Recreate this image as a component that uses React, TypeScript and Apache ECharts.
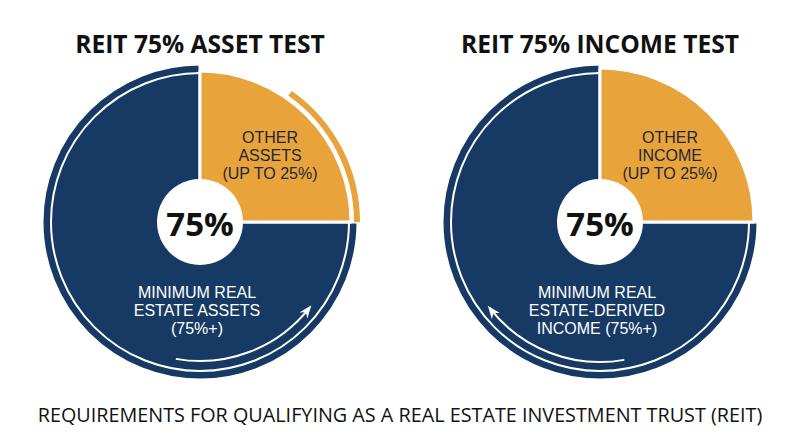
import React, { useEffect, useRef } from "react";
import * as echarts from "echarts";

const NAVY = "#173a65";
const ORANGE = "#e8a33b";

const chartTitles = ["REIT 75% ASSET TEST", "REIT 75% INCOME TEST"];
const categoryKeys = ["other", "realEstate"];
const assetValues = [25, 75];
const incomeValues = [25, 75];
const assetLabels = [
  ["OTHER", "ASSETS", "(UP TO 25%)"],
  ["MINIMUM REAL", "ESTATE ASSETS", "(75%+)"],
];
const incomeLabels = [
  ["OTHER", "INCOME", "(UP TO 25%)"],
  ["MINIMUM REAL", "ESTATE-DERIVED", "INCOME (75%+)"],
];
const centerLabel = "75%";
const footerText = "REQUIREMENTS FOR QUALIFYING AS A REAL ESTATE INVESTMENT TRUST (REIT)";

const deg = (d: number) => (d * Math.PI) / 180;
const FONT = "'Open Sans', 'Noto Sans', sans-serif";
const LABEL_FONT = "'Liberation Sans', Arial, sans-serif";

function arrowHead(cx: number, cy: number, r: number, angDeg: number, dirSign: number) {
  const t = deg(angDeg);
  const px = cx + r * Math.cos(t);
  const py = cy + r * Math.sin(t);
  const tx = -Math.sin(t) * dirSign;
  const ty = Math.cos(t) * dirSign;
  const nx = -ty;
  const ny = tx;
  const L = 10;
  const W = 5;
  const tip = [px + tx * 3, py + ty * 3];
  const b1 = [px - tx * L + nx * W, py - ty * L + ny * W];
  const b2 = [px - tx * L - nx * W, py - ty * L - ny * W];
  const mid = [px - tx * (L * 0.6), py - ty * (L * 0.6)];
  return {
    type: "polygon",
    z: 110,
    shape: { points: [tip, b1, mid, b2] },
    style: { fill: "#ffffff" },
  };
}

function pieSeries(values: number[], cx: number, cy: number, rOther: number, rMain: number) {
  const colors = [ORANGE, NAVY];
  const mk = (r: number, show: number) => ({
    type: "pie",
    center: [cx, cy],
    radius: [0, r],
    startAngle: 90,
    clockwise: true,
    silent: true,
    label: { show: false },
    labelLine: { show: false },
    data: values.map((v, i) => ({
      name: categoryKeys[i],
      value: v,
      itemStyle:
        i === show
          ? { color: colors[i], borderColor: "#ffffff", borderWidth: 3 }
          : { color: "rgba(0,0,0,0)", borderWidth: 0 },
    })),
  });
  return [mk(rMain, 1), mk(rOther, 0)];
}

function lineTexts(lines: string[], x: number, yMid: number, color: string) {
  const step = 18;
  const y0 = yMid - ((lines.length - 1) * step) / 2;
  return lines.map((t, i) => ({
    type: "text",
    z: 120,
    x,
    y: y0 + i * step,
    style: {
      text: t,
      fontSize: 16,
      fontFamily: LABEL_FONT,
      fill: color,
      align: "center",
      verticalAlign: "middle",
    },
  }));
}

function decorations(
  cx: number,
  cy: number,
  title: string,
  labels: string[][],
  opts: { ring: number; arrowR: number; arrowFrom: number; arrowTo: number; band: boolean }
) {
  const els: any[] = [];
  els.push({
    type: "text",
    z: 120,
    x: cx,
    y: 43,
    style: {
      text: title,
      fontSize: 24.6,
      fontWeight: "bold",
      fontFamily: FONT,
      fill: "#111111",
      align: "center",
      verticalAlign: "middle",
    },
  });
  els.push({
    type: "arc",
    z: 105,
    shape: { cx, cy, r: opts.ring, startAngle: 0, endAngle: deg(270), clockwise: true },
    style: { stroke: "#ffffff", lineWidth: 2, fill: "none" },
  });
  if (opts.band) {
    els.push({
      type: "arc",
      z: 104,
      shape: { cx, cy, r: 157, startAngle: deg(-55), endAngle: deg(0), clockwise: true },
      style: { stroke: ORANGE, lineWidth: 6, fill: "none" },
    });
  }
  const cw = opts.arrowTo > opts.arrowFrom;
  els.push({
    type: "arc",
    z: 105,
    shape: {
      cx,
      cy,
      r: opts.arrowR,
      startAngle: deg(opts.arrowFrom),
      endAngle: deg(opts.arrowTo),
      clockwise: cw,
    },
    style: { stroke: "#ffffff", lineWidth: 2, fill: "none" },
  });
  els.push(arrowHead(cx, cy, opts.arrowR, opts.arrowTo, cw ? 1 : -1));
  els.push({
    type: "circle",
    z: 106,
    shape: { cx, cy, r: 43 },
    style: { fill: "#ffffff" },
  });
  els.push({
    type: "text",
    z: 120,
    x: cx,
    y: cy + 1,
    style: {
      text: centerLabel,
      fontSize: 33,
      fontWeight: "bold",
      fontFamily: FONT,
      fill: "#111111",
      align: "center",
      verticalAlign: "middle",
    },
  });
  els.push(...lineTexts(labels[0], cx + 70, 155, "#1d2737"));
  els.push(...lineTexts(labels[1], cx - 3, 310, "#ffffff"));
  return els;
}

export default function App() {
  const ref = useRef<HTMLDivElement>(null);
  useEffect(() => {
    if (!ref.current) return;
    const chart = echarts.init(ref.current, undefined, { renderer: "svg" });
    const L = { cx: 200, cy: 222 };
    const R = { cx: 600, cy: 222 };
    chart.setOption({
      animation: false,
      backgroundColor: "#ffffff",
      series: [
        ...pieSeries(assetValues, L.cx, L.cy, 151, 158),
        ...pieSeries(incomeValues, R.cx, R.cy, 154, 158),
      ],
      graphic: {
        elements: [
          ...decorations(L.cx, L.cy, chartTitles[0], assetLabels, {
            ring: 149,
            arrowR: 139,
            arrowFrom: 100,
            arrowTo: 38,
            band: true,
          }),
          ...decorations(R.cx, R.cy, chartTitles[1], incomeLabels, {
            ring: 149,
            arrowR: 140,
            arrowFrom: 80,
            arrowTo: 142,
            band: false,
          }),
          {
            type: "text",
            z: 120,
            x: 400,
            y: 414,
            style: {
              text: footerText,
              fontSize: 19.8,
              fontFamily: FONT,
              fill: "#111111",
              align: "center",
              verticalAlign: "middle",
            },
          },
        ],
      },
    });
    return () => chart.dispose();
  }, []);
  return <div ref={ref} style={{ position: "fixed", left: 0, top: 0, width: 800, height: 447 }} />;
}
